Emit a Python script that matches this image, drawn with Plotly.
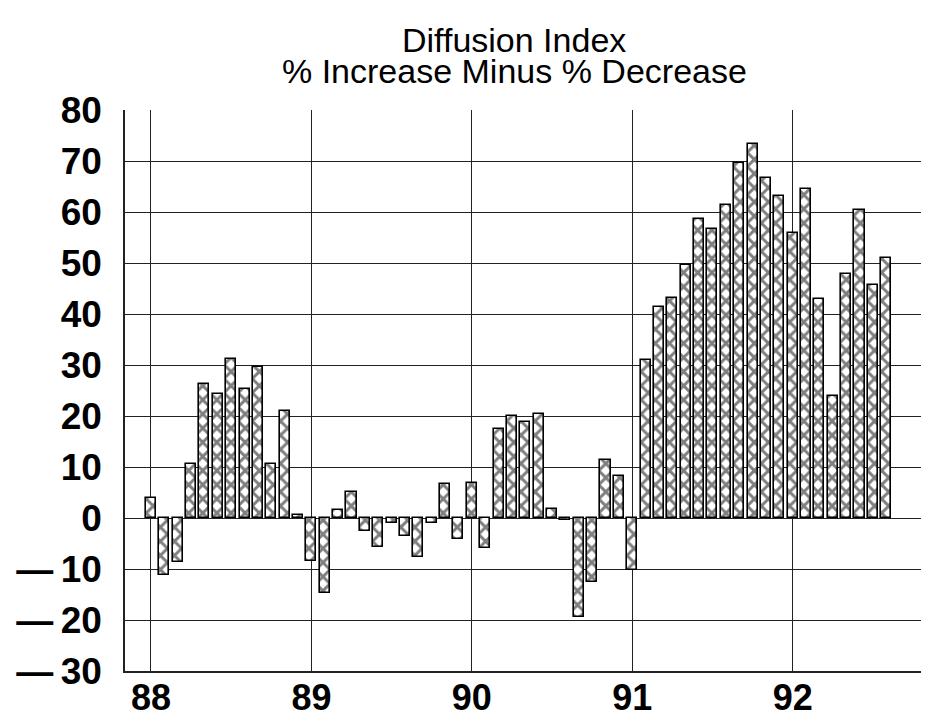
import plotly.graph_objects as go

years = [88, 89, 90, 91, 92]
vals_88 = [4.0, -11.2, -8.6, 10.5, 26.2, 24.4, 31.2, 25.2, 29.7, 10.5, 20.9, 0.6]
vals_89 = [-8.4, -14.7, 1.5, 5.1, -2.6, -5.6, -1.0, -3.5, -7.6, -1.0, 6.6, -4.1]
vals_90 = [6.9, -5.9, 17.4, 20.0, 18.8, 20.4, 1.7, -0.4, -19.4, -12.6, 11.3, 8.2]
vals_91 = [-10.1, 30.9, 41.3, 43.1, 49.6, 58.7, 56.7, 61.3, 69.7, 73.4, 66.7, 63.2]
vals_92 = [55.9, 64.5, 43.0, 23.9, 47.8, 60.3, 45.7, 51.0]

yearly = [vals_88, vals_89, vals_90, vals_91, vals_92]
x = []
y = []
for yr, vs in zip(years, yearly):
    for m, v in enumerate(vs):
        x.append(yr + m / 12.0)
        y.append(v)

y_ticks = list(range(-30, 81, 10))
y_labels = [("\u2014\u2009" + str(-t)) if t < 0 else str(t) for t in y_ticks]

font_family = "Liberation Sans, Arial, sans-serif"
x_range = [87.838, 92.85]

fig = go.Figure()
fig.add_trace(go.Bar(
    x=x, y=y, width=0.0625,
    marker=dict(
        color="white",
        line=dict(color="black", width=1.6),
        pattern=dict(shape="x", fgcolor="black", bgcolor="white", size=10, solidity=0.5),
    ),
    showlegend=False,
))
# invisible carrier so the label axis is drawn
fig.add_trace(go.Scatter(x=years, y=[None] * len(years), xaxis="x2", mode="markers",
                         showlegend=False, hoverinfo="skip"))

fig.update_layout(
    width=929, height=727,
    margin=dict(l=115, r=8, t=102, b=64),
    paper_bgcolor="white", plot_bgcolor="white",
    font=dict(family=font_family, color="black", size=36),
    bargap=0,
    xaxis=dict(
        range=x_range,
        tickvals=years, showticklabels=False,
        showgrid=True, gridcolor="#222", gridwidth=1,
        showline=True, linecolor="#222", linewidth=1.5,
        zeroline=False, ticks="",
    ),
    xaxis2=dict(
        range=x_range, overlaying="x", anchor="free", position=0.0, side="bottom",
        tickvals=years, ticktext=["<b>%d</b>" % v for v in years],
        showgrid=False, showline=False, zeroline=False, ticks="", ticklabelstandoff=2,
        tickfont=dict(size=36, family=font_family),
    ),
    yaxis=dict(
        range=[-30, 80],
        tickvals=y_ticks, ticktext=["<b>%s</b>" % s for s in y_labels],
        showgrid=True, gridcolor="#222", gridwidth=1,
        showline=True, linecolor="#222", linewidth=1.5,
        zeroline=False, ticks="", ticklabelstandoff=14,
        tickfont=dict(size=37, family=font_family),
    ),
    annotations=[
        dict(text="Diffusion Index", xref="paper", yref="paper", x=0.484, y=1.125,
             xanchor="center", yanchor="middle", showarrow=False,
             font=dict(size=34, family=font_family, color="black")),
        dict(text="% Increase Minus % Decrease", xref="paper", yref="paper", x=0.484, y=1.0695,
             xanchor="center", yanchor="middle", showarrow=False,
             font=dict(size=34, family=font_family, color="black")),
    ],
)

fig.write_html("out.html")
